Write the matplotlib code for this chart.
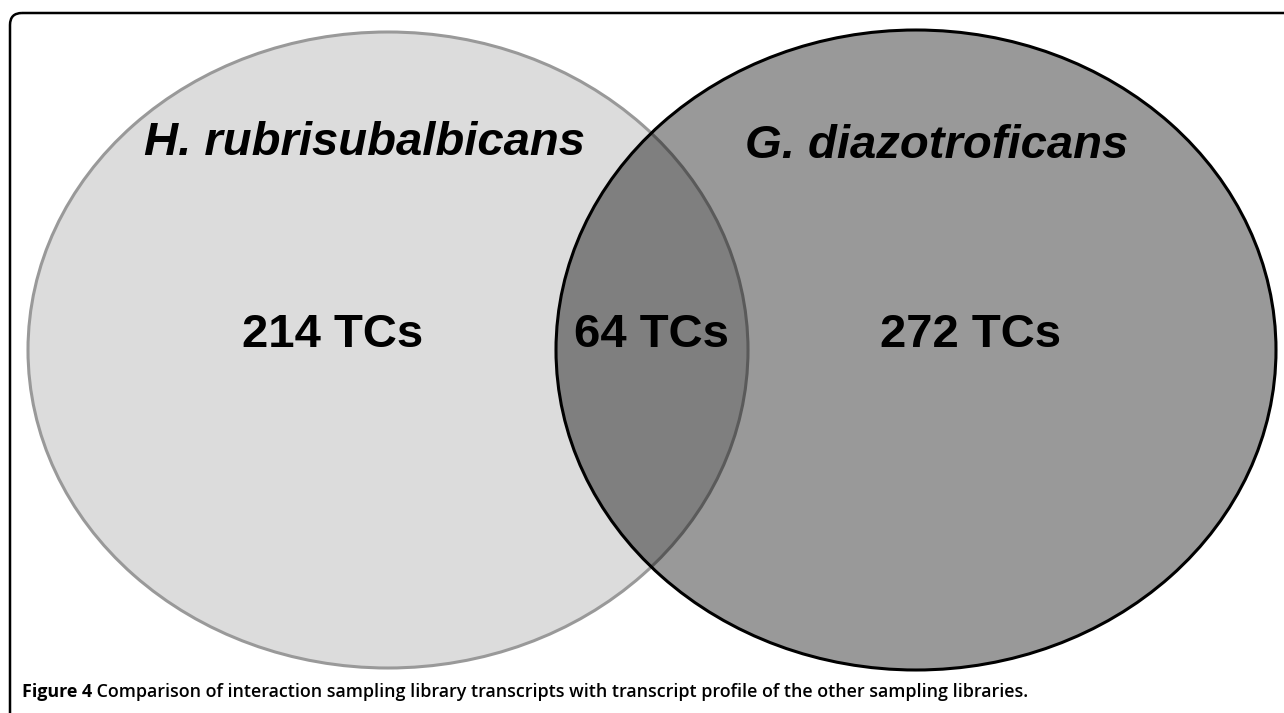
import matplotlib.pyplot as plt
from matplotlib.patches import Ellipse, FancyBboxPatch

# -------------------- DATA --------------------
species = ["H. rubrisubalbicans", "G. diazotroficans"]
only_counts = [214, 272]
shared_count = 64
unit = "TCs"
caption_bold = "Figure 4"
caption_text = (" Comparison of interaction sampling library transcripts with "
                "transcript profile of the other sampling libraries.")

# -------------------- FIGURE --------------------
W, H = 1284, 713
fig = plt.figure(figsize=(W / 100, H / 100), dpi=100)
ax = fig.add_axes([0, 0, 1, 1])
ax.set_xlim(0, W)
ax.set_ylim(H, 0)
ax.set_aspect('equal')
ax.axis('off')

# panel frame (rounded, bottom and right run off the image)
frame = FancyBboxPatch((10, 13), 1300, 760, boxstyle="round,pad=0,rounding_size=12",
                       fc='none', ec='black', lw=1.8, zorder=1)
ax.add_patch(frame)

# circles
left = Ellipse((388, 350), 720, 636, fc='#dcdcdc', ec='#999999', lw=2.2, zorder=2)
right = Ellipse((916, 350), 720, 640, fc='#999999', ec='none', zorder=3)
ax.add_patch(left)
ax.add_patch(right)
# overlap region: left circle drawn again, clipped to the right one
overlap = Ellipse((388, 350), 720, 636, fc='#7f7f7f', ec='#5a5a5a', lw=2.2, zorder=4)
ax.add_patch(overlap)
overlap.set_clip_path(right)
right_edge = Ellipse((916, 350), 720, 640, fc='none', ec='black', lw=2.2, zorder=5)
ax.add_patch(right_edge)

# labels
lab = dict(family='Liberation Sans', fontweight='bold', color='black', zorder=6,
           ha='center', va='baseline')
ax.text(364, 155, species[0], fontsize=34, fontstyle='italic', **lab)
ax.text(937, 158, species[1], fontsize=34, fontstyle='italic', **lab)
ax.text(333, 347, f"{only_counts[0]} {unit}", fontsize=34, **lab)
ax.text(651, 347, f"{shared_count} {unit}", fontsize=34, **lab)
ax.text(971, 347, f"{only_counts[1]} {unit}", fontsize=34, **lab)

# caption
t = ax.text(22, 692, caption_bold, family='Open Sans', fontweight='bold',
            fontsize=12.9, ha='left', va='center', zorder=6)
ax.annotate(caption_text, xy=(1, 0.5), xycoords=t, ha='left', va='center',
            family='Open Sans', fontweight='semibold', fontsize=12.9, zorder=6)

fig.savefig('out.png', dpi=100)
